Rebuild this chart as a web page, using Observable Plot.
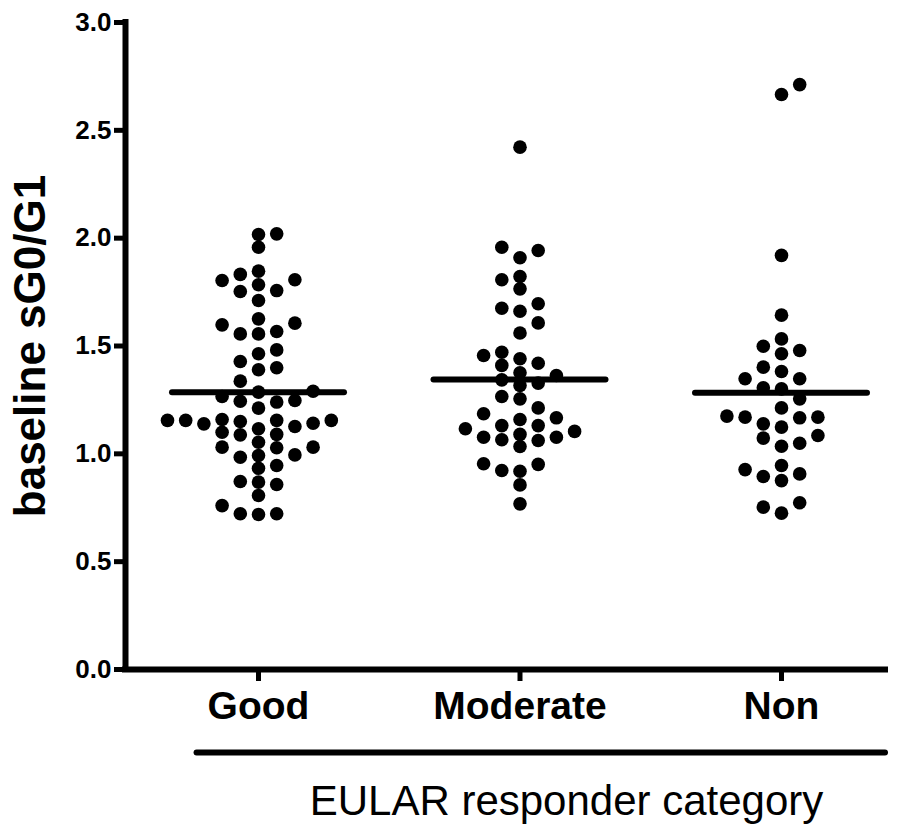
<!DOCTYPE html>
<html>
<head>
<meta charset="utf-8">
<script src="https://cdn.jsdelivr.net/npm/d3@7"></script>
<script src="https://cdn.jsdelivr.net/npm/@observablehq/plot@0.6"></script>
<style>
  html, body { margin: 0; padding: 0; background: #fff; }
  #chart svg { display: block; }
</style>
</head>
<body>
<div id="chart"></div>
<script>
// ---- data ----
const categories = ["Good", "Moderate", "Non"];

const goodValues = [
  2.017, 2.020, 1.958, 1.832, 1.847, 1.804, 1.807, 1.784, 1.753, 1.757,
  1.711, 1.606, 1.567, 1.556, 1.556, 1.598, 1.626, 1.482, 1.464, 1.428,
  1.399, 1.390, 1.337, 1.286, 1.290, 1.247, 1.240, 1.212, 1.244, 1.266,
  1.155, 1.155, 1.150, 1.139, 1.159, 1.116, 1.127, 1.142, 1.155, 1.155,
  1.090, 1.088, 1.100, 1.054, 1.031, 1.028, 1.031, 0.995, 0.984, 0.992,
  0.933, 0.946, 0.872, 0.858, 0.869, 0.807, 0.760, 0.722, 0.719, 0.722
];

const moderateValues = [
  2.422, 1.958, 1.943, 1.909, 1.807, 1.822, 1.765, 1.696, 1.675, 1.661,
  1.607, 1.560, 1.471, 1.441, 1.456, 1.410, 1.420, 1.363, 1.317, 1.343,
  1.376, 1.328, 1.255, 1.266, 1.213, 1.167, 1.131, 1.131, 1.159, 1.186,
  1.104, 1.077, 1.065, 1.034, 1.062, 1.077, 1.090, 1.116, 0.954, 0.923,
  0.919, 0.951, 0.856, 0.768
];

const nonValues = [
  2.712, 2.666, 1.920, 1.643, 1.533, 1.479, 1.499, 1.464, 1.402, 1.382,
  1.348, 1.348, 1.306, 1.301, 1.255, 1.213, 1.175, 1.170, 1.139, 1.124,
  1.167, 1.170, 1.073, 1.035, 1.049, 1.085, 0.927, 0.895, 0.876, 0.907,
  0.946, 0.773, 0.725, 0.753
];

const medians = [1.286, 1.345, 1.283];

const yTicks = [0, 0.5, 1.0, 1.5, 2.0, 2.5, 3.0];
const yLabel = "baseline sG0/G1";
const xLabel = "EULAR responder category";

// ---- layout ----
const W = 901, H = 825;
const mL = 125, mR = 16, mT = 22, mB = 156;
const xMin = -0.5086, xMax = 2.3977;
const pxPerX = (W - mL - mR) / (xMax - xMin);
const pxPerY = (H - mT - mB) / 3;
const colStepPx = 18.2;   // horizontal spacing between swarm columns
const minGapPx = 12;      // vertical gap needed to share a column

// Prism-like column swarm: each value goes in the column nearest the centre
// where it does not collide with points already placed there.
function swarmColumns(values) {
  const order = values.map((v, i) => i).sort((a, b) => values[a] - values[b]);
  const cols = new Array(values.length);
  const placed = [];
  let side = -1;
  for (const i of order) {
    const v = values[i];
    const free = c => placed.every(p => p.c !== c || Math.abs(p.v - v) * pxPerY >= minGapPx);
    let chosen = null;
    if (free(0)) chosen = 0;
    for (let k = 1; chosen === null; k++) {
      if (free(side * k)) { chosen = side * k; side = -side; }
      else if (free(-side * k)) { chosen = -side * k; }
    }
    cols[i] = chosen;
    placed.push({ v, c: chosen });
  }
  return cols;
}

const seriesValues = [goodValues, moderateValues, nonValues];
const points = [];
seriesValues.forEach((vals, idx) => {
  const cols = swarmColumns(vals);
  vals.forEach((v, i) => points.push({
    category: categories[idx],
    value: v,
    x: idx + cols[i] * colStepPx / pxPerX
  }));
});

const medianRows = medians.map((m, idx) => ({ idx, median: m }));
const medianHalf = 86 / pxPerX;

const chart = Plot.plot({
  width: W,
  height: H,
  marginLeft: mL,
  marginRight: mR,
  marginTop: mT,
  marginBottom: mB,
  x: { domain: [xMin, xMax] },
  y: { domain: [0, 3] },
  style: {
    fontFamily: "'Liberation Sans', Arial, Helvetica, sans-serif",
    background: "#fff",
    color: "#000"
  },
  marks: [
    Plot.axisY(yTicks, {
      tickSize: 11, tickPadding: 3, strokeWidth: 5,
      tickFormat: d => d.toFixed(1),
      fontSize: 26, fontWeight: "bold", label: null
    }),
    Plot.axisX([0, 1, 2], {
      tickSize: 12, tickPadding: 10, strokeWidth: 5,
      tickFormat: i => categories[i],
      fontSize: 39, fontWeight: "bold", label: null
    }),
    Plot.ruleX([xMin], { y1: 0, y2: 3, stroke: "#000", strokeWidth: 6, strokeLinecap: "square" }),
    Plot.ruleY([0], { stroke: "#000", strokeWidth: 6, strokeLinecap: "square" }),
    Plot.ruleY([0], { x1: -0.235, x2: xMax, dy: 83, strokeWidth: 6, strokeLinecap: "round" }),
    Plot.dot(points, { x: "x", y: "value", r: 6.8, fill: "#000", stroke: null }),
    Plot.ruleY(medianRows, {
      x1: d => d.idx - medianHalf, x2: d => d.idx + medianHalf, y: "median",
      strokeWidth: 6, strokeLinecap: "round"
    }),
    Plot.text([yLabel], {
      frameAnchor: "left", textAnchor: "middle", lineAnchor: "middle",
      rotate: -90, dx: -95,
      fontSize: 44, fontWeight: "bold", fill: "#000"
    }),
    Plot.text([xLabel], {
      frameAnchor: "bottom", textAnchor: "middle", lineAnchor: "middle",
      dx: 61, dy: 132,
      fontSize: 42, fill: "#000"
    })
  ]
});

document.getElementById("chart").appendChild(chart);
</script>
</body>
</html>
